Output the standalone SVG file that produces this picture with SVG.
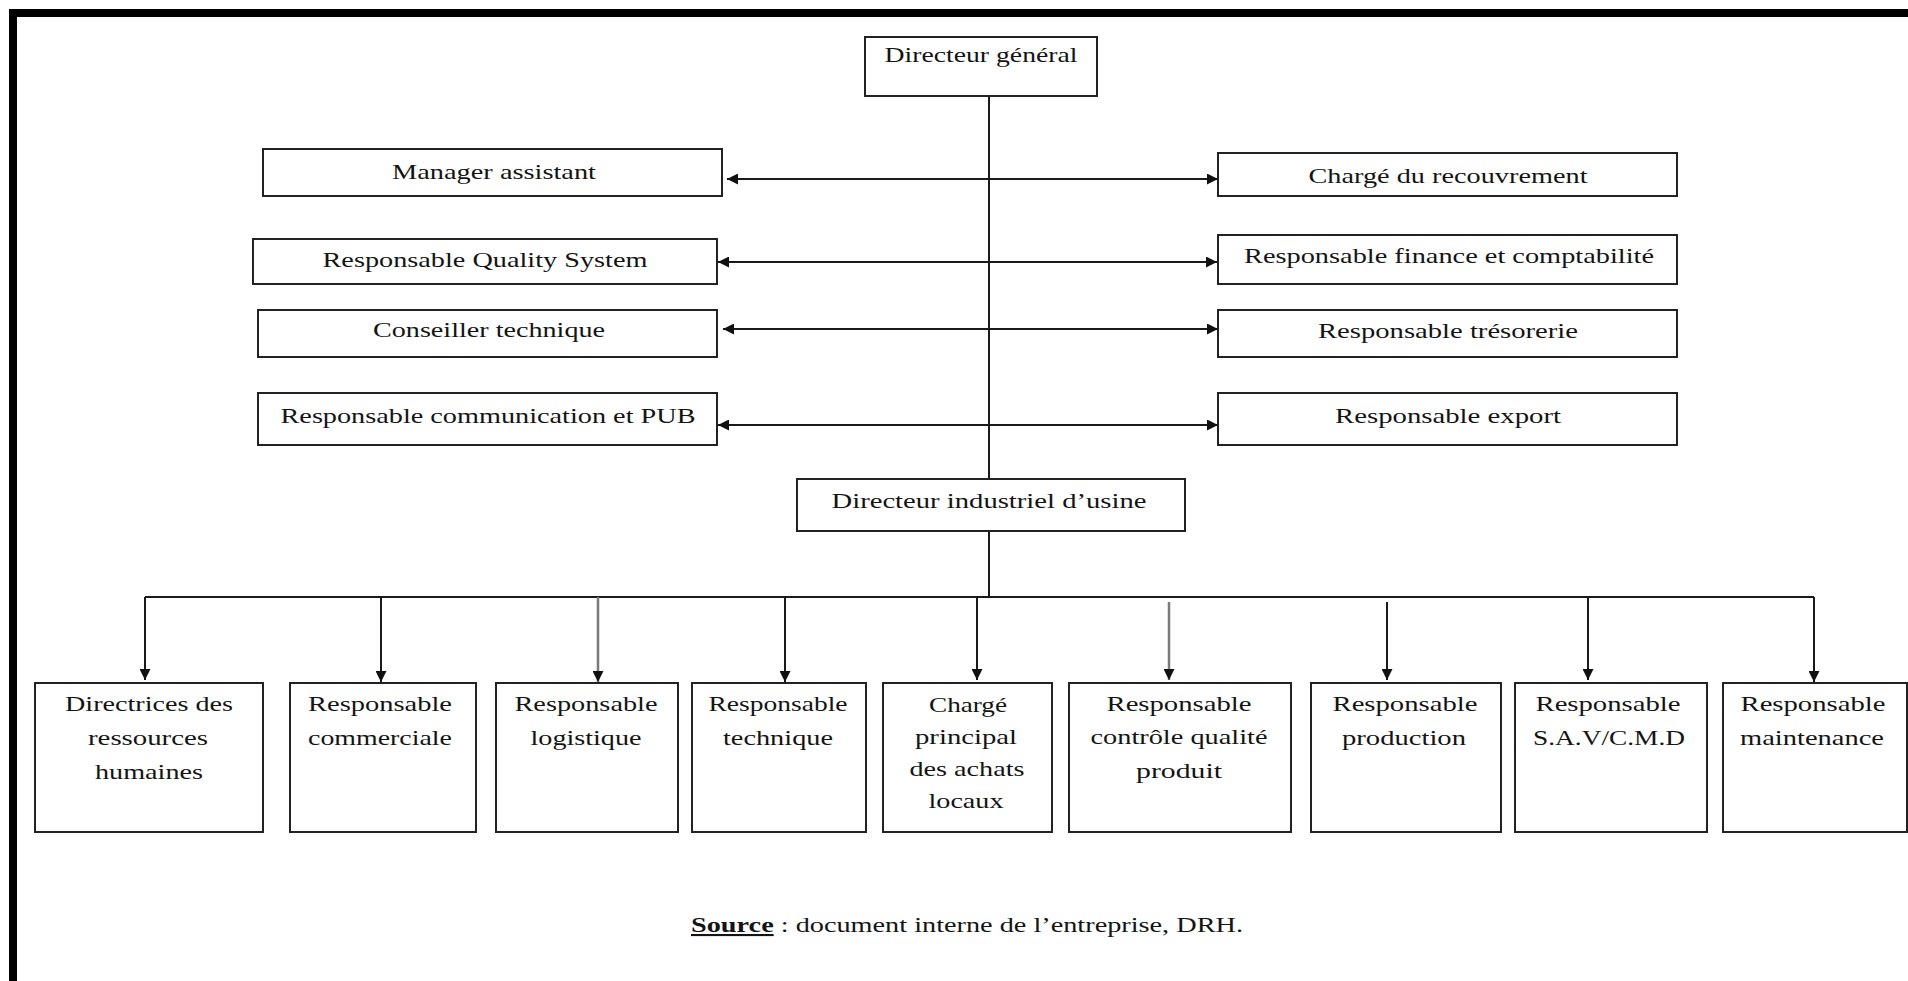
<svg xmlns="http://www.w3.org/2000/svg" width="1908" height="981" viewBox="0 0 1908 981">
<defs>
<style>
.box{fill:#fff;stroke:#222;stroke-width:2}
.t{font-family:"Liberation Serif","Times New Roman",serif;font-size:22px;fill:#141414;text-anchor:middle}
.ln{fill:none;stroke:#1a1a1a;stroke-width:2}
.gr{fill:none;stroke:#7a7a7a;stroke-width:2.5}
.src{font-family:"Liberation Serif","Times New Roman",serif;font-size:21px;fill:#141414}
</style>
<marker id="ah" viewBox="0 0 12 12" refX="12" refY="6" markerWidth="12" markerHeight="11" orient="auto-start-reverse" markerUnits="userSpaceOnUse">
<path d="M0,0 L12,6 L0,12 z" fill="#111"/>
</marker>
</defs>
<rect x="0" y="0" width="1908" height="981" fill="#fff"/>
<path d="M13,981 V13 H1908" fill="none" stroke="#000" stroke-width="8"/>

<g id="connectors">
<path class="ln" d="M989,96 V479"/>
<path class="ln" d="M989,531 V597"/>
<path class="ln" d="M145,597 H1814"/>
<line class="ln" x1="145" y1="597" x2="145" y2="680" marker-end="url(#ah)"/>
<line class="ln" x1="381" y1="597" x2="381" y2="682" marker-end="url(#ah)"/>
<line class="gr" x1="598" y1="597" x2="598" y2="682" marker-end="url(#ah)"/>
<line class="ln" x1="785" y1="597" x2="785" y2="682" marker-end="url(#ah)"/>
<line class="ln" x1="977" y1="597" x2="977" y2="680" marker-end="url(#ah)"/>
<line class="gr" x1="1169" y1="602" x2="1169" y2="680" marker-end="url(#ah)"/>
<line class="ln" x1="1387" y1="602" x2="1387" y2="680" marker-end="url(#ah)"/>
<line class="ln" x1="1588" y1="597" x2="1588" y2="680" marker-end="url(#ah)"/>
<line class="ln" x1="1814" y1="597" x2="1814" y2="682" marker-end="url(#ah)"/>
<line class="ln" x1="727" y1="179" x2="1218" y2="179" marker-start="url(#ah)" marker-end="url(#ah)"/>
<line class="ln" x1="718" y1="262" x2="1217" y2="262" marker-start="url(#ah)" marker-end="url(#ah)"/>
<line class="ln" x1="723" y1="329" x2="1218" y2="329" marker-start="url(#ah)" marker-end="url(#ah)"/>
<line class="ln" x1="718" y1="425" x2="1218" y2="425" marker-start="url(#ah)" marker-end="url(#ah)"/>
</g>

<g id="n-dg"><rect class="box" x="865" y="37" width="232" height="59"/><text class="t" x="981" y="62" textLength="193" lengthAdjust="spacingAndGlyphs">Directeur général</text></g>

<g id="n-manager"><rect class="box" x="263" y="149" width="459" height="47"/><text class="t" x="494" y="179" textLength="204" lengthAdjust="spacingAndGlyphs">Manager assistant</text></g>
<g id="n-qs"><rect class="box" x="253" y="239" width="464" height="45"/><text class="t" x="485" y="267" textLength="325" lengthAdjust="spacingAndGlyphs">Responsable Quality System</text></g>
<g id="n-conseiller"><rect class="box" x="258" y="310" width="459" height="47"/><text class="t" x="489" y="337" textLength="232" lengthAdjust="spacingAndGlyphs">Conseiller technique</text></g>
<g id="n-pub"><rect class="box" x="258" y="393" width="459" height="52"/><text class="t" x="488" y="423" textLength="415" lengthAdjust="spacingAndGlyphs">Responsable communication et PUB</text></g>

<g id="n-recouvrement"><rect class="box" x="1218" y="153" width="459" height="43"/><text class="t" x="1448" y="183" textLength="279" lengthAdjust="spacingAndGlyphs">Chargé du recouvrement</text></g>
<g id="n-finance"><rect class="box" x="1218" y="235" width="459" height="49"/><text class="t" x="1449" y="263" textLength="410" lengthAdjust="spacingAndGlyphs">Responsable finance et comptabilité</text></g>
<g id="n-tresorerie"><rect class="box" x="1218" y="310" width="459" height="47"/><text class="t" x="1448" y="338" textLength="260" lengthAdjust="spacingAndGlyphs">Responsable trésorerie</text></g>
<g id="n-export"><rect class="box" x="1218" y="393" width="459" height="52"/><text class="t" x="1448" y="423" textLength="226" lengthAdjust="spacingAndGlyphs">Responsable export</text></g>

<g id="n-di"><rect class="box" x="797" y="479" width="388" height="52"/><text class="t" x="989" y="508" textLength="315" lengthAdjust="spacingAndGlyphs">Directeur industriel d’usine</text></g>

<g id="n-drh"><rect class="box" x="35" y="683" width="228" height="149"/>
<text class="t" x="149" y="711" textLength="168" lengthAdjust="spacingAndGlyphs">Directrices des</text>
<text class="t" x="148" y="745" textLength="120" lengthAdjust="spacingAndGlyphs">ressources</text>
<text class="t" x="149" y="779" textLength="108" lengthAdjust="spacingAndGlyphs">humaines</text></g>
<g id="n-commerciale"><rect class="box" x="290" y="683" width="186" height="149"/>
<text class="t" x="380" y="711" textLength="144" lengthAdjust="spacingAndGlyphs">Responsable</text>
<text class="t" x="380" y="745" textLength="144" lengthAdjust="spacingAndGlyphs">commerciale</text></g>
<g id="n-logistique"><rect class="box" x="496" y="683" width="182" height="149"/>
<text class="t" x="586" y="711" textLength="143" lengthAdjust="spacingAndGlyphs">Responsable</text>
<text class="t" x="586" y="745" textLength="111" lengthAdjust="spacingAndGlyphs">logistique</text></g>
<g id="n-technique"><rect class="box" x="692" y="683" width="174" height="149"/>
<text class="t" x="778" y="711" textLength="139" lengthAdjust="spacingAndGlyphs">Responsable</text>
<text class="t" x="778" y="745" textLength="110" lengthAdjust="spacingAndGlyphs">technique</text></g>
<g id="n-achats"><rect class="box" x="883" y="683" width="169" height="149"/>
<text class="t" x="968" y="712" textLength="78" lengthAdjust="spacingAndGlyphs">Chargé</text>
<text class="t" x="966" y="744" textLength="102" lengthAdjust="spacingAndGlyphs">principal</text>
<text class="t" x="967" y="776" textLength="115" lengthAdjust="spacingAndGlyphs">des achats</text>
<text class="t" x="966" y="808" textLength="75" lengthAdjust="spacingAndGlyphs">locaux</text></g>
<g id="n-controle"><rect class="box" x="1069" y="683" width="222" height="149"/>
<text class="t" x="1179" y="711" textLength="145" lengthAdjust="spacingAndGlyphs">Responsable</text>
<text class="t" x="1179" y="744" textLength="177" lengthAdjust="spacingAndGlyphs">contrôle qualité</text>
<text class="t" x="1179" y="778" textLength="86" lengthAdjust="spacingAndGlyphs">produit</text></g>
<g id="n-production"><rect class="box" x="1311" y="683" width="190" height="149"/>
<text class="t" x="1405" y="711" textLength="145" lengthAdjust="spacingAndGlyphs">Responsable</text>
<text class="t" x="1404" y="745" textLength="124" lengthAdjust="spacingAndGlyphs">production</text></g>
<g id="n-sav"><rect class="box" x="1515" y="683" width="192" height="149"/>
<text class="t" x="1608" y="711" textLength="145" lengthAdjust="spacingAndGlyphs">Responsable</text>
<text class="t" x="1609" y="745" textLength="152" lengthAdjust="spacingAndGlyphs">S.A.V/C.M.D</text></g>
<g id="n-maintenance"><rect class="box" x="1723" y="683" width="184" height="149"/>
<text class="t" x="1813" y="711" textLength="145" lengthAdjust="spacingAndGlyphs">Responsable</text>
<text class="t" x="1812" y="745" textLength="144" lengthAdjust="spacingAndGlyphs">maintenance</text></g>

<g id="source"><text class="src" x="691" y="932" textLength="552" lengthAdjust="spacingAndGlyphs"><tspan font-weight="bold" text-decoration="underline">Source</tspan> : document interne de l’entreprise, DRH.</text></g>
</svg>
